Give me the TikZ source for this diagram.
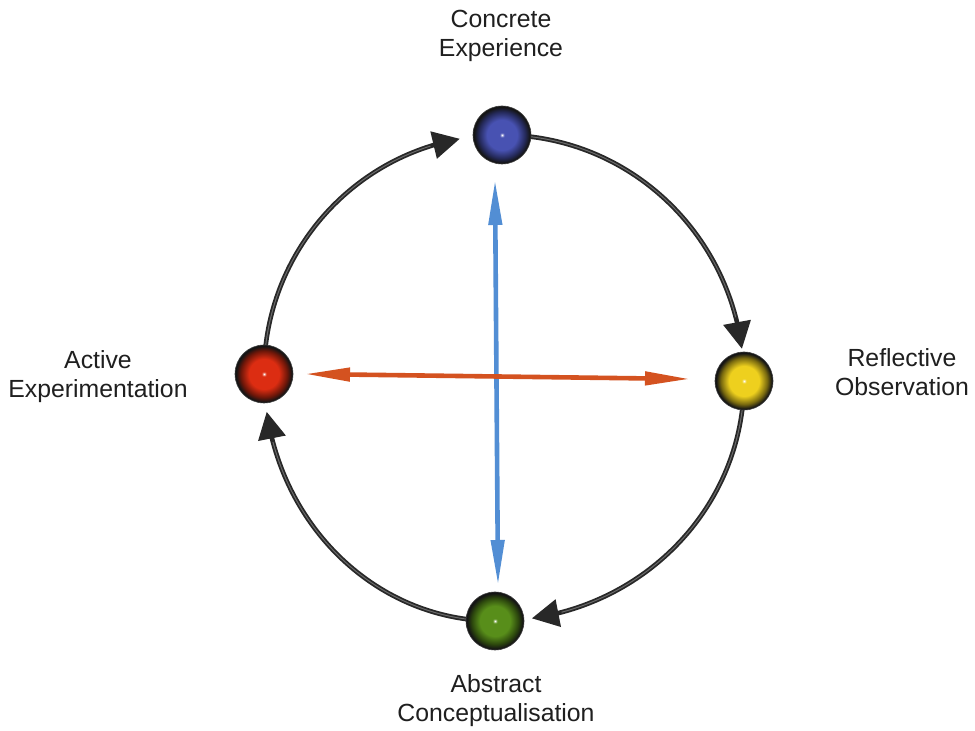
\documentclass[tikz,border=0pt]{standalone}
\usepackage{fontspec}
\setmainfont{Liberation Sans}
\usetikzlibrary{arrows.meta,bending}
\pgfdeclarelayer{bg}
\pgfsetlayers{bg,main}
\definecolor{cB}{RGB}{72,82,178}
\definecolor{cR}{RGB}{220,45,18}
\definecolor{cY}{RGB}{238,208,30}
\definecolor{cG}{RGB}{88,142,26}
\definecolor{axisblue}{RGB}{82,142,212}
\definecolor{axisorange}{RGB}{212,82,32}
\definecolor{arcgray}{RGB}{40,40,40}
\pgfdeclareradialshading{ballB}{\pgfpoint{0bp}{0bp}}{color(0bp)=(white); color(1bp)=(cB!50!white); color(2bp)=(cB); color(13bp)=(cB); color(20bp)=(cB!50!black); color(24bp)=(black!92); color(50bp)=(black!92)}
\pgfdeclareradialshading{ballR}{\pgfpoint{0bp}{0bp}}{color(0bp)=(white); color(1bp)=(cR!50!white); color(2bp)=(cR); color(13bp)=(cR); color(20bp)=(cR!50!black); color(24bp)=(black!92); color(50bp)=(black!92)}
\pgfdeclareradialshading{ballY}{\pgfpoint{0bp}{0bp}}{color(0bp)=(white); color(1bp)=(cY!50!white); color(2bp)=(cY); color(13bp)=(cY); color(20bp)=(cY!50!black); color(24bp)=(black!92); color(50bp)=(black!92)}
\pgfdeclareradialshading{ballG}{\pgfpoint{0bp}{0bp}}{color(0bp)=(white); color(1bp)=(cG!50!white); color(2bp)=(cG); color(13bp)=(cG); color(20bp)=(cG!50!black); color(24bp)=(black!92); color(50bp)=(black!92)}
\tikzset{
  ball/.style={circle, inner sep=0pt, minimum size=58pt, shade, draw=black!75, line width=0.6pt},
  lbl/.style={align=center, inner sep=0pt, anchor=north, font=\fontsize{24.8}{29}\selectfont, text=black!88},
  cyclearc/.style={draw=arcgray, line width=4.6pt, -{Triangle[length=27pt,width=27pt,flex]}},
  arcshine/.style={draw=black!58, line width=1pt},
  axisline/.style={line width=4.6pt, {Triangle[length=45pt,width=13pt]}-{Triangle[length=45pt,width=13pt]}}
}
\begin{document}
\begin{tikzpicture}[x=1pt,y=1pt]
\begin{pgfonlayer}{bg}
\fill[white] (0,0) rectangle (975,731);
\end{pgfonlayer}
\useasboundingbox (0,0) rectangle (975,731);
% spheres
\node[ball, shading=ballB] (ce) at (502,596) {};
\node[ball, shading=ballY] (ro) at (744,350) {};
\node[ball, shading=ballG] (ac) at (495,110) {};
\node[ball, shading=ballR] (ae) at (264,357) {};
% axes
\coordinate (bt) at (495,551);
\coordinate (bb) at (498,146);
\coordinate (ol) at (305,357);
\coordinate (orr) at (690,352);
\draw[axisline, draw=axisblue, fill=axisblue] (bt) -- (bb);
\draw[axisline, draw=axisorange, fill=axisorange] (ol) -- (orr);
% cycle arcs (behind the spheres)
\begin{pgfonlayer}{bg}
\draw[cyclearc] (ce.center) arc[start angle=90, end angle=7.5, x radius=242, y radius=246];
\draw[cyclearc] (ro.center) arc[start angle=0, end angle=-81.5, x radius=249, y radius=240];
\draw[cyclearc] (ac.center) arc[start angle=-90, end angle=-171.2, x radius=231, y radius=247];
\draw[cyclearc] (ae.center) arc[start angle=180, end angle=100.2, x radius=238, y radius=239];
\draw[arcshine] (ce.center) arc[start angle=90, end angle=15, x radius=242, y radius=246];
\draw[arcshine] (ro.center) arc[start angle=0, end angle=-74.5, x radius=249, y radius=240];
\draw[arcshine] (ac.center) arc[start angle=-90, end angle=-164, x radius=231, y radius=247];
\draw[arcshine] (ae.center) arc[start angle=180, end angle=107.5, x radius=238, y radius=239];
\end{pgfonlayer}
% labels
\node[lbl] (lce) at (501,721) {Concrete\\Experience};
\node[lbl] (lro) at (902,383) {Reflective\\Observation};
\node[lbl] (lae) at (98,381) {Active\\Experimentation};
\node[lbl] (lac) at (496,57) {Abstract\\Conceptualisation};
\end{tikzpicture}
\end{document}
